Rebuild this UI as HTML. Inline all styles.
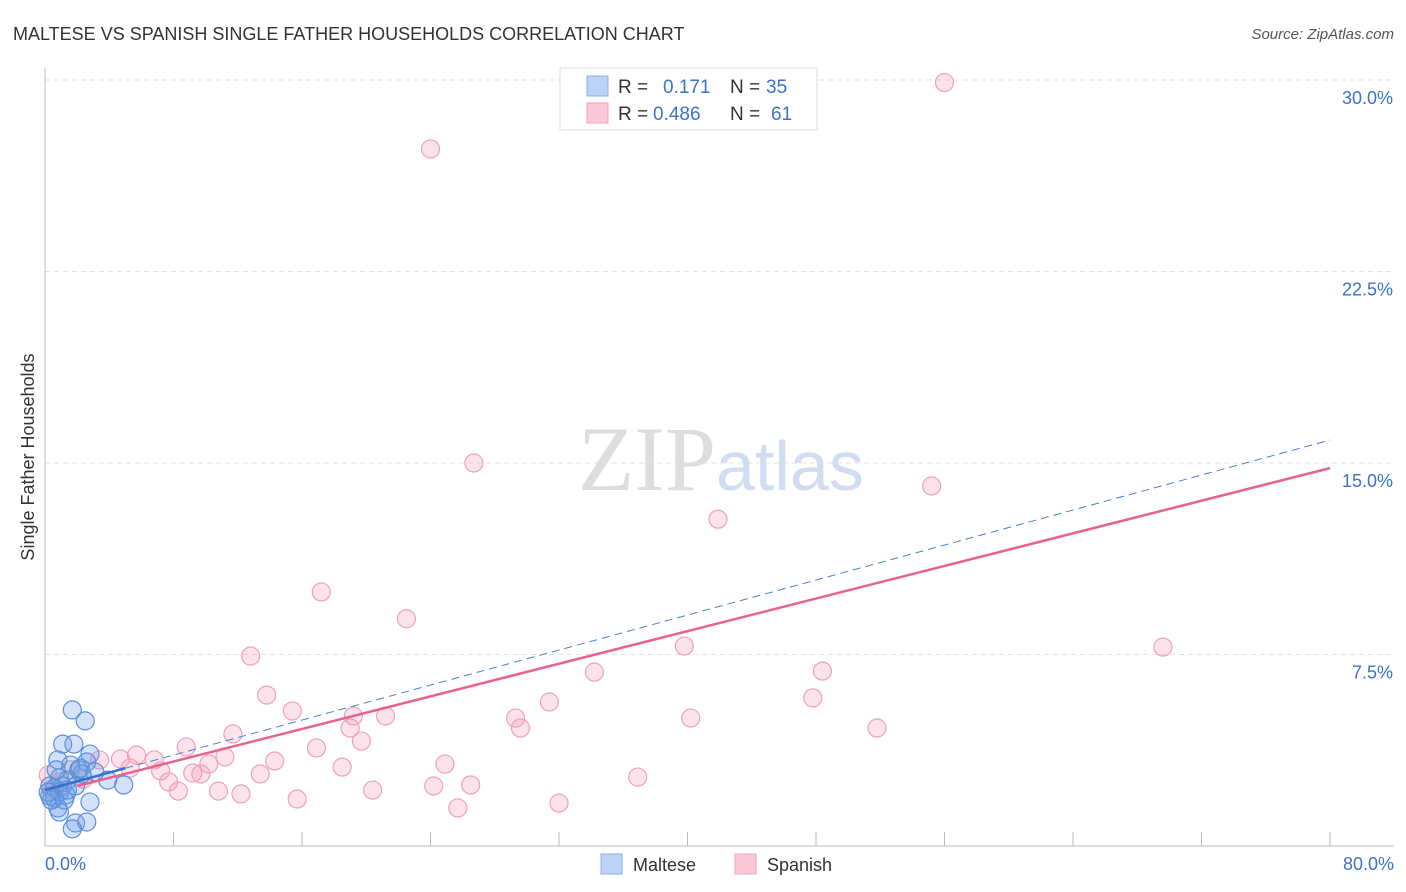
<!DOCTYPE html>
<html><head><meta charset="utf-8"><style>
body{margin:0;background:#fff;font-family:"Liberation Sans",sans-serif;}
svg{display:block}
</style></head><body>
<svg id="chart" width="1406" height="892" xmlns="http://www.w3.org/2000/svg" font-family="Liberation Sans, sans-serif">
<text x="13" y="40" font-size="18" fill="#333">MALTESE VS SPANISH SINGLE FATHER HOUSEHOLDS CORRELATION CHART</text>
<text x="1394" y="39" font-size="15" fill="#555" font-style="italic" text-anchor="end">Source: ZipAtlas.com</text>
<text x="716" y="490" font-size="92" text-anchor="end" fill="#ddd" font-family="Liberation Serif, serif">ZIP</text>
<text x="716" y="490" font-size="70" fill="#cfdcf2">atlas</text>
<g id="grid"></g>
<line x1="45" y1="68" x2="45" y2="846" stroke="#bbb"/>
<line x1="45" y1="846" x2="1394" y2="846" stroke="#bbb"/>
<g id="xticks"></g>
<g id="ylabels"></g>
<text transform="translate(34,457) rotate(-90)" font-size="18" fill="#333" text-anchor="middle">Single Father Households</text>
<text x="45" y="870" font-size="18" fill="#3a73c8">0.0%</text>
<text x="1394" y="870" font-size="18" fill="#3a73c8" text-anchor="end">80.0%</text>
<g id="pts"></g>
<g id="lines"></g>
<g>
<rect x="560" y="68" width="257" height="62" fill="#fff" stroke="#ddd"/>
<rect x="587" y="76" width="21" height="20" fill="#bcd3f5" stroke="#8ab0e8"/>
<rect x="587" y="103" width="21" height="20" fill="#f9c9d8" stroke="#f0a3bd"/>
<text x="618" y="93" font-size="19" fill="#333">R = </text><text x="663" y="93" font-size="19" fill="#3a73c8">0.171</text>
<text x="730" y="93" font-size="19" fill="#333">N = </text><text x="766" y="93" font-size="19" fill="#3a73c8">35</text>
<text x="618" y="120" font-size="19" fill="#333">R = </text><text x="653" y="120" font-size="19" fill="#3a73c8">0.486</text>
<text x="730" y="120" font-size="19" fill="#333">N = </text><text x="771" y="120" font-size="19" fill="#3a73c8">61</text>
</g>
<g>
<rect x="601" y="854" width="21" height="20" fill="#bcd3f5" stroke="#8ab0e8"/>
<text x="633" y="871" font-size="18" fill="#333">Maltese</text>
<rect x="735" y="854" width="21" height="20" fill="#f9c9d8" stroke="#f0a3bd"/>
<text x="767" y="871" font-size="18" fill="#333">Spanish</text>
</g>
</svg>
<script>
const yTicks=[7.5,15,22.5,30];
const yTickLabels=["7.5%","15.0%","22.5%","30.0%"];
const xTicks=[8,16,24,32,40,48,56,64,72,80];
const malteseX=[1.7,2.5,1.1,1.8,2.8,0.8,2.6,1.6,2.1,2.3,0.9,1.4,3.9,4.9,0.3,0.6,0.9,1.3,0.3,0.6,2.8,0.8,0.9,1.9,2.6,1.7,0.4,0.2,1.1,1.9,1.2,2.2,0.7,3.1,1.4];
const malteseY=[5.33,4.90,3.99,3.99,3.60,3.37,3.29,3.17,2.98,2.82,2.66,2.58,2.58,2.39,2.35,2.27,2.11,2.00,1.96,1.88,1.72,1.49,1.33,0.90,0.94,0.67,1.80,2.11,2.35,2.35,1.80,3.05,2.98,2.90,2.19];
const spanishX=[56.0,24.0,26.7,55.2,41.9,17.2,22.5,39.8,69.6,12.8,34.2,48.4,13.8,31.4,47.8,15.4,19.2,21.2,29.3,40.2,29.6,51.8,19.0,11.7,19.7,8.8,16.9,5.7,11.2,6.8,14.3,24.9,10.2,4.7,3.4,5.3,18.5,7.2,9.2,9.7,13.4,36.9,2.4,0.2,7.7,26.5,24.2,8.3,10.8,12.2,20.4,15.7,32.0,25.7,0.9,1.6,0.4];
const spanishY=[29.9,27.3,15.0,14.1,12.8,9.95,8.9,7.83,7.79,7.44,6.81,6.85,5.91,5.64,5.80,5.29,5.09,5.09,5.01,5.01,4.62,4.62,4.62,4.39,4.11,3.88,3.84,3.56,3.49,3.37,3.33,3.21,3.21,3.41,3.37,3.05,3.09,2.94,2.86,2.82,2.82,2.70,2.62,2.78,2.51,2.39,2.35,2.15,2.15,2.04,2.19,1.84,1.68,1.49,2.51,2.98,2.19];
const malteseTrend=[2.19,15.9];
const spanishTrend=[2.03,14.8];
const NS="http://www.w3.org/2000/svg";
const sx=v=>45+v/80*1285, sy=v=>846-v/30*766;
function mk(tag,attrs,parent){const e=document.createElementNS(NS,tag);for(const k in attrs)e.setAttribute(k,attrs[k]);parent.appendChild(e);return e;}
const grid=document.getElementById('grid'),xt=document.getElementById('xticks'),yl=document.getElementById('ylabels'),pts=document.getElementById('pts'),ln=document.getElementById('lines');
yTicks.forEach((t,i)=>{
 const g=mk('line',{x1:45,x2:1394,y1:sy(t),y2:sy(t),stroke:'#e2e2e2','stroke-dasharray':'5,4'},grid);
 
 
 const tx=mk('text',{x:1393,y:sy(t)+24,'font-size':18,fill:'#3a73c8','text-anchor':'end'},yl);
 tx.textContent=yTickLabels[i];
 
 
});
xTicks.forEach(t=>{
 const l=mk('line',{x1:sx(t),x2:sx(t),y1:832,y2:846,stroke:'#bbb'},xt);
 
 
});
spanishX.forEach((x,i)=>{
 const c=mk('circle',{cx:sx(x),cy:sy(spanishY[i]),r:9,fill:'rgba(242,150,182,0.28)',stroke:'#f0a0bb','stroke-width':1.2},pts);
 
 
});
malteseX.forEach((x,i)=>{
 const c=mk('circle',{cx:sx(x),cy:sy(malteseY[i]),r:9,fill:'rgba(110,160,232,0.3)',stroke:'#5b8fd9','stroke-width':1.2},pts);
 
 
});
const ty=(tr,x)=>tr[0]+(tr[1]-tr[0])*x/80;
const bd=mk('line',{x1:sx(5),y1:sy(ty(malteseTrend,5)),x2:sx(80),y2:sy(ty(malteseTrend,80)),stroke:'#4a7fd4','stroke-width':1,'stroke-dasharray':'8,5'},ln);


const bs=mk('line',{x1:sx(0),y1:sy(ty(malteseTrend,0)),x2:sx(5),y2:sy(ty(malteseTrend,5)),stroke:'#3a6fcf','stroke-width':2.5},ln);


const ps=mk('line',{x1:sx(2),y1:sy(ty(spanishTrend,2)),x2:sx(80),y2:sy(ty(spanishTrend,80)),stroke:'#e8628f','stroke-width':2.5},ln);


</script>
</body></html>
